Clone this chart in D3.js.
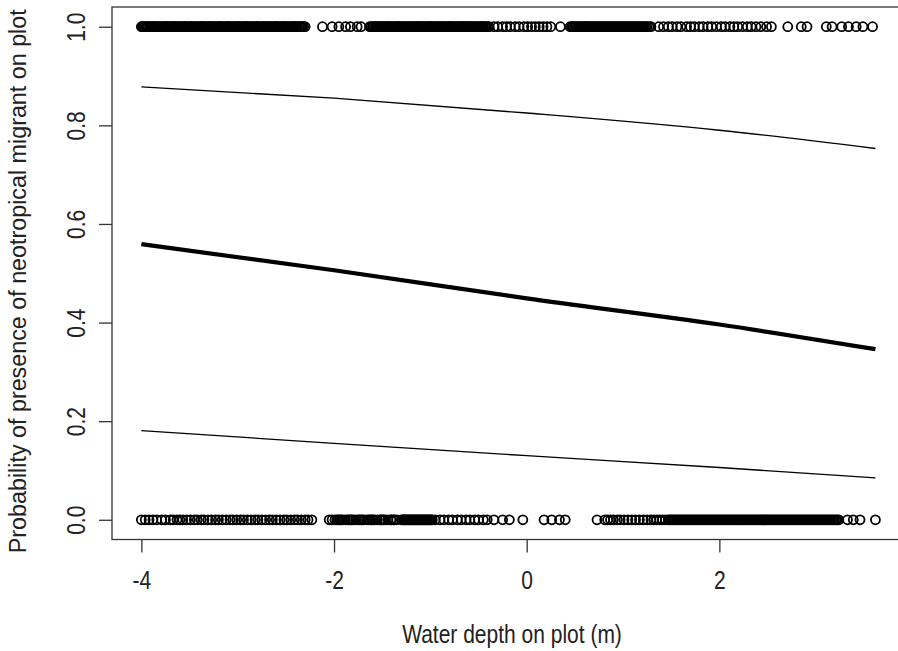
<!DOCTYPE html>
<html><head><meta charset="utf-8">
<script src="https://cdn.jsdelivr.net/npm/d3@7"></script>
<style>body{margin:0;background:#fff}svg{display:block}text{font-family:"Liberation Sans",Arial,sans-serif;fill:#222}</style>
</head><body><svg id="c" width="898" height="651"></svg>
<script>
// observed water depths (m) of plots with neotropical migrant present (1)
const presentDepths = [
-4.00,-3.99,-3.98,-3.965,-3.95,-3.94,-3.93,-3.915,-3.90,-3.885,-3.87,-3.86,-3.85,-3.835,-3.82,-3.805,-3.79,-3.775,-3.76,-3.75,
-3.74,-3.725,-3.71,-3.695,-3.68,-3.67,-3.66,-3.645,-3.63,-3.615,-3.60,-3.585,-3.57,-3.56,-3.55,-3.535,-3.52,-3.505,-3.49,-3.48,
-3.47,-3.455,-3.44,-3.425,-3.41,-3.395,-3.38,-3.37,-3.36,-3.345,-3.33,-3.315,-3.30,-3.29,-3.28,-3.265,-3.25,-3.235,-3.22,-3.205,
-3.19,-3.18,-3.17,-3.155,-3.14,-3.125,-3.11,-3.10,-3.09,-3.075,-3.06,-3.045,-3.03,-3.015,-3.00,-2.99,-2.98,-2.965,-2.95,-2.935,
-2.92,-2.91,-2.90,-2.885,-2.87,-2.855,-2.84,-2.825,-2.81,-2.80,-2.79,-2.775,-2.76,-2.745,-2.73,-2.72,-2.71,-2.695,-2.68,-2.665,
-2.65,-2.635,-2.62,-2.61,-2.60,-2.585,-2.57,-2.555,-2.54,-2.53,-2.52,-2.505,-2.49,-2.475,-2.46,-2.445,-2.43,-2.42,-2.41,-2.395,
-2.38,-2.365,-2.35,-2.34,-2.33,-2.315,-2.30,
-2.12,-2.02,-1.95,-1.88,-1.83,-1.76,-1.72,
-1.63,-1.615,-1.60,-1.585,-1.57,-1.56,-1.55,-1.535,-1.52,-1.505,-1.49,-1.475,-1.46,-1.45,-1.44,-1.425,-1.41,-1.395,-1.38,-1.365,
-1.35,-1.34,-1.33,-1.315,-1.30,-1.285,-1.27,-1.255,-1.24,-1.23,-1.22,-1.205,-1.19,-1.175,-1.16,-1.145,-1.13,-1.12,-1.11,-1.095,
-1.08,-1.065,-1.05,-1.035,-1.02,-1.01,-1.00,-0.985,-0.97,-0.955,-0.94,-0.925,-0.91,-0.90,-0.89,-0.875,-0.86,-0.845,-0.83,-0.815,
-0.80,-0.79,-0.78,-0.765,-0.75,-0.735,-0.72,-0.705,-0.69,-0.68,-0.67,-0.655,-0.64,-0.625,-0.61,-0.595,-0.58,-0.57,-0.56,-0.545,
-0.53,-0.515,-0.50,-0.485,-0.47,-0.46,-0.45,-0.435,-0.42,-0.405,-0.39,
-0.34,-0.30,-0.25,-0.21,-0.17,-0.12,-0.08,-0.03,0.01,0.05,0.09,0.13,0.17,0.21,0.25,
0.35,
0.45,0.465,0.48,0.495,0.51,0.525,0.54,0.555,0.57,0.585,0.60,0.61,0.62,0.635,0.65,0.665,0.68,0.695,0.71,0.725,
0.74,0.755,0.77,0.785,0.80,0.815,0.83,0.845,0.86,0.875,0.89,0.905,0.92,0.935,0.95,0.965,0.98,0.995,1.01,1.025,
1.04,1.055,1.07,1.085,1.10,1.115,1.13,1.145,1.16,1.175,1.19,1.205,1.22,1.235,1.25,1.27,1.29,
1.37,1.42,1.47,1.51,1.56,1.60,1.66,1.70,1.74,1.79,1.83,1.88,1.92,1.97,2.02,2.06,2.11,2.15,2.19,2.24,
2.29,2.33,2.38,2.43,2.49,2.54,
2.71,2.85,2.91,3.11,3.17,3.27,3.34,3.42,3.49,3.59
];
// observed water depths (m) of plots with neotropical migrant absent (0)
const absentDepths = [
-4.00,-3.96,-3.92,-3.88,-3.84,-3.79,-3.75,-3.70,-3.67,-3.63,-3.60,-3.57,-3.53,-3.49,-3.45,-3.42,-3.38,-3.35,-3.31,-3.27,
-3.23,-3.20,-3.16,-3.12,-3.08,-3.05,-3.01,-2.97,-2.94,-2.90,-2.86,-2.82,-2.79,-2.75,-2.71,-2.67,-2.64,-2.60,-2.56,-2.52,
-2.49,-2.45,-2.41,-2.38,-2.34,-2.30,-2.27,-2.23,
-2.05,-2.02,-1.99,-1.97,-1.955,-1.94,-1.925,-1.91,-1.88,-1.86,-1.845,-1.83,-1.815,-1.80,-1.77,-1.75,-1.735,-1.72,-1.705,-1.69,
-1.66,-1.64,-1.625,-1.61,-1.595,-1.58,-1.55,-1.52,-1.515,-1.50,-1.485,-1.47,-1.44,-1.41,-1.405,-1.38,-1.375,-1.35,
-1.30,-1.29,-1.28,-1.27,-1.26,-1.25,-1.24,-1.23,-1.22,-1.21,-1.20,-1.19,-1.18,-1.17,-1.16,-1.15,-1.14,-1.13,-1.12,-1.11,
-1.10,-1.09,-1.08,-1.07,-1.06,-1.05,-1.04,-1.03,-1.02,-1.01,-1.00,-0.99,-0.98,
-0.95,-0.90,-0.86,-0.81,-0.77,-0.72,-0.68,-0.63,-0.59,-0.54,-0.50,-0.45,-0.41,
-0.34,-0.25,-0.18,-0.04,0.18,0.26,0.34,0.40,0.73,
0.81,0.84,0.87,0.90,0.94,0.97,1.01,1.05,1.09,1.13,1.17,1.21,1.25,1.29,1.32,1.35,1.38,1.41,1.44,1.47,
1.485,1.50,1.515,1.53,1.545,1.56,1.575,1.59,1.605,1.62,1.635,1.65,1.665,1.68,1.695,1.71,1.725,1.74,1.755,1.77,
1.785,1.80,1.815,1.83,1.845,1.86,1.875,1.89,1.905,1.92,1.935,1.95,1.965,1.98,1.995,2.01,2.025,2.04,2.055,2.07,
2.085,2.10,2.115,2.13,2.145,2.16,2.175,2.19,2.205,2.22,2.235,2.25,2.265,2.28,2.295,2.31,2.325,2.34,2.355,2.37,
2.385,2.40,2.415,2.43,2.445,2.46,2.475,2.49,2.505,2.52,2.535,2.55,2.565,2.58,2.595,2.61,2.625,2.64,2.655,2.67,
2.685,2.70,2.715,2.73,2.745,2.76,2.775,2.79,2.805,2.82,2.835,2.85,2.865,2.88,2.895,2.91,2.925,2.94,2.955,2.97,
2.985,3.00,3.015,3.03,3.045,3.06,3.075,3.09,3.105,3.12,3.135,3.15,3.165,3.18,3.195,3.21,3.225,3.24,
3.33,3.39,3.46,3.62
];
// fitted logistic curve and confidence bands, read at these depths
const curveDepths = [-4, -2, 0, 2, 3.62];
const fitMean  = [0.559, 0.506, 0.449, 0.396, 0.346];
const fitUpper = [0.878, 0.855, 0.825, 0.790, 0.753];
const fitLower = [0.181, 0.155, 0.130, 0.106, 0.085];
const xTicks = [-4, -2, 0, 2];
const yTicks = [0, 0.2, 0.4, 0.6, 0.8, 1.0];
const xTitle = "Water depth on plot (m)";
const yTitle = "Probability of presence of neotropical migrant on plot";

const FONT = '"Liberation Sans",Arial,sans-serif';
const svg = d3.select("#c");
const L = 112, T = 7, B = 539.5;
const allX = presentDepths.concat(absentDepths);
const xmin = d3.min(allX), xmax = d3.max(allX), pad = (xmax - xmin) * 0.04;
const x = d3.scaleLinear().domain([xmin - pad, xmax + pad]).range([L, L + 8.23 * 96.33]);
const y = d3.scaleLinear().domain([-0.04, 1.04]).range([B, T]);

// axes
const xa = svg.append("g").attr("transform", `translate(0,${B})`)
  .call(d3.axisBottom(x).tickValues(xTicks).tickSize(13).tickFormat(d => String(d)));
const ya = svg.append("g").attr("transform", `translate(${L},0)`)
  .call(d3.axisLeft(y).tickValues(yTicks).tickSize(13).tickFormat(d3.format(".1f")));
[xa, ya].forEach(g => { g.select(".domain").remove(); g.selectAll("line").attr("stroke", "#333").attr("stroke-width", 1.3); });
xa.selectAll("text").attr("font-size", 21).attr("fill", "#222").style("font-family", FONT)
  .attr("y", 0).attr("dy", 0).attr("transform", "translate(0,49) scale(1,1.2)");
ya.selectAll("text").attr("font-size", 21).attr("fill", "#222").style("font-family", FONT)
  .attr("text-anchor", "middle").attr("x", 0).attr("y", 0).attr("dy", 0)
  .attr("transform", "translate(-27,0) rotate(-90) scale(1,1.2)");

// points
const pts = svg.append("g").attr("fill", "none").attr("stroke", "#000").attr("stroke-width", 1.8);
pts.selectAll(".p1").data(presentDepths).join("circle").attr("cx", d => x(d)).attr("cy", y(1)).attr("r", 4.5);
pts.selectAll(".p0").data(absentDepths).join("circle").attr("cx", d => x(d)).attr("cy", y(0)).attr("r", 4.5);

// curves
const line = vals => d3.line().x((d, i) => x(curveDepths[i])).y(d => y(d)).curve(d3.curveMonotoneX)(vals);
svg.append("path").attr("d", line(fitUpper)).attr("fill", "none").attr("stroke", "#000").attr("stroke-width", 1.3);
svg.append("path").attr("d", line(fitLower)).attr("fill", "none").attr("stroke", "#000").attr("stroke-width", 1.3);
svg.append("path").attr("d", line(fitMean)).attr("fill", "none").attr("stroke", "#000").attr("stroke-width", 4.2);

// box
svg.append("rect").attr("x", L).attr("y", T).attr("width", x.range()[1] - L).attr("height", B - T)
  .attr("fill", "none").attr("stroke", "#333").attr("stroke-width", 1.3);

// titles
svg.append("text").attr("transform", "translate(512,643) scale(1,1.2)").attr("text-anchor", "middle").attr("font-size", 21).text(xTitle);
svg.append("text").attr("transform", `translate(26,${(T + B) / 2 + 8}) rotate(-90) scale(1.11,1.15)`).attr("text-anchor", "middle").attr("font-size", 21).text(yTitle);
</script></body></html>
